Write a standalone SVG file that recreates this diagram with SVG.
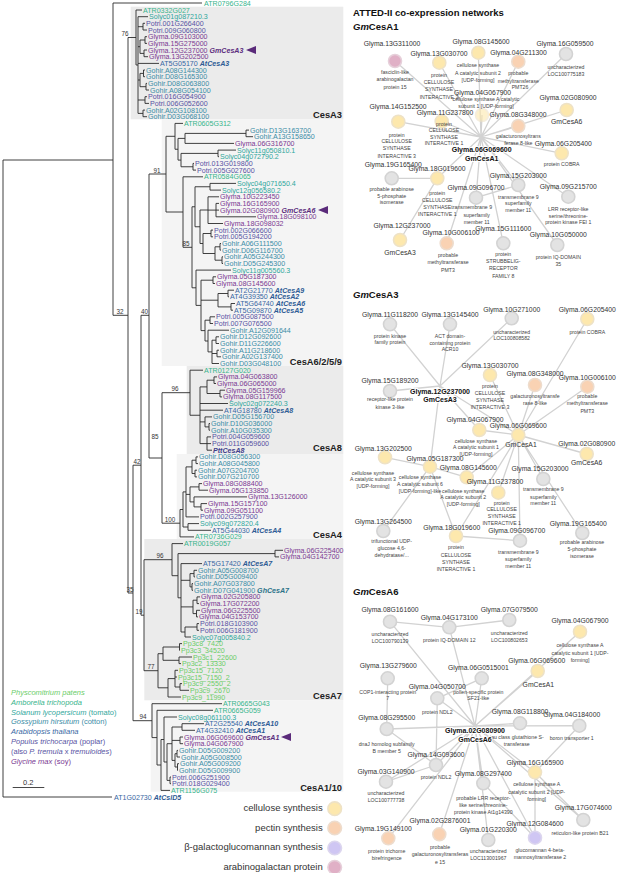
<svg xmlns="http://www.w3.org/2000/svg" width="617" height="873" viewBox="0 0 617 873">
<style>
text{font-family:"Liberation Sans",Arial,sans-serif}
.lf{font-size:7.1px}
.am{fill:#38b48c}.pp{fill:#6bcd68}.sl{fill:#2fa79c}.gh{fill:#3a8ca6}.at{fill:#3867a3}.pt{fill:#5753a3}.gm{fill:#7a3992}
.bi{font-weight:bold;font-style:italic}
.bgm{fill:#5b2c7d}.bat{fill:#2e5b94}.bpt{fill:#3f3d8a}.bgh{fill:#2a7288}
.tree{fill:none;stroke:#2b2b2b;stroke-width:0.9}
.bs{font-size:6.3px;fill:#333;text-anchor:middle}
.cl{font-size:9.3px;font-weight:bold;fill:#222;text-anchor:end}
.edge{stroke:#d2d2d2;stroke-width:1.3;fill:none}
circle{stroke-width:1.6}
.cel{fill:#fde8ad;stroke:#eee2c6}
.pec{fill:#f9d2b3;stroke:#eddccd}
.gal{fill:#cfc6f3;stroke:#dcd6ee}
.ara{fill:#e0b0c6;stroke:#e6d0da}
.unk{fill:#e3e3e3;stroke:#d3d3d3}
.nl{font-size:6.8px;fill:#333;text-anchor:middle}
.nd{font-size:5.2px;fill:#444;text-anchor:middle}
.hb{font-size:7px;font-weight:bold;fill:#111;text-anchor:middle;stroke:#fff;stroke-width:2;paint-order:stroke}
.nt{font-size:9.5px;font-weight:bold;fill:#111}
.sp{font-size:7.5px}
.lg{font-size:9.5px;fill:#333;text-anchor:end}
</style>
<defs>
<polygon id="arw" points="0,0 10,-4 10,4" fill="#5a2a7a"/>
</defs>

<!-- clade boxes -->
<g id="clade-boxes">
<rect x="130.7" y="6.7" width="212.6" height="112.6" fill="#ebebeb"/>
<rect x="161.7" y="119.3" width="181.6" height="246.7" fill="#f4f4f4"/>
<rect x="186.7" y="366" width="156.6" height="88" fill="#ebebeb"/>
<rect x="176.7" y="454" width="166.6" height="85" fill="#f4f4f4"/>
<rect x="144.3" y="539" width="199" height="161.3" fill="#ebebeb"/>
<rect x="150.7" y="700.3" width="192.6" height="91.4" fill="#f4f4f4"/>
<text class="cl" x="342" y="117.5">CesA3</text>
<text class="cl" x="342" y="364.5">CesA6/2/5/9</text>
<text class="cl" x="342" y="451.3">CesA8</text>
<text class="cl" x="342" y="537.5">CesA4</text>
<text class="cl" x="342" y="698.5">CesA7</text>
<text class="cl" x="342" y="790.5">CesA1/10</text>
</g>

<g id="tree-branches">
<path class="tree" d="M3 160V797M3 160H113M3 797H112M113 3V315.3M113 3H202M113 315.3H128M128 37.5V593M128 37.5H136M128 593H133M133 465.2V720.7M133 465.2H141M133 720.7H152M141 315.3V615.2M141 315.3H149M141 615.2H144M149 174V458M149 174H166M149 458H162
M136 10V65M136 10H142M136 65H138M138 16.7V113.4M138 16.7H148M138 26.7H143M138 46.7H140M138 63.4H159M138 80H140M138 100H145M138 113.4H143M143 23.3V30M143 23.3H145M143 30H147M140 40V53.4M140 40H145M140 53.4H144M145 36.7V43.4M145 36.7H147M145 43.4H147M144 50V56.7M144 50H147M144 56.7H148M140 73.4V86.7M140 73.4H143.5M140 86.7H146M143.5 70V76.7M143.5 70H145M143.5 76.7H145M146 83.4V90M146 83.4H147M146 90H149M145 96.7V103.4M145 96.7H147M145 103.4H149M143 110.1V116.7M143 110.1H145M143 116.7H147
M166 136.3V212M166 136.3H175M166 212H183M175 123.4V149.25M175 123.4H183M175 149.25H178M178 138.4V160.1M178 138.4H185M178 160.1H181M185 133.4V143.4M185 133.4H246M185 143.4H234M246 130.1V136.7M246 130.1H249M246 136.7H253M181 153.4V166.75M181 153.4H218M181 166.75H193M218 150.1V156.7M218 150.1H236M218 156.7H219M193 163.4V170.1M193 163.4H194M193 170.1H196
M183 176.8V247.3M183 176.8H203M183 247.3H192M192 206.75V287.8M192 206.75H195M192 287.8H196M195 186.75V226.75M195 186.75H210M195 226.75H200M210 183.4V190.1M210 183.4H236M210 190.1H221M200 210V243.5M200 210H208M200 243.5H203M208 196.8V223.5M208 196.8H219M208 210.1H216M208 223.5H223M216 203.4V216.8M216 203.4H219M216 210.1H219M216 216.8H256M203 233.5V253.5M203 233.5H211M203 253.5H215M211 230.1V236.8M211 230.1H213M211 236.8H213M215 246.8V260.2M215 246.8H220M215 260.2H222M220 243.5V250.1M220 243.5H221M220 250.1H221M222 256.8V263.5M222 256.8H223M222 263.5H223
M196 270.1V305.4M196 270.1H231M196 305.4H201M201 280.2V330.6M201 280.2H213M201 300.2H218M201 330.6H205M213 276.8V283.5M213 276.8H216M213 283.5H215M218 293.5V306.9M218 293.5H228M218 306.9H231M228 290.2V296.8M228 290.2H234M228 296.8H229M231 303.5V310.2M231 303.5H235M231 310.2H233M205 320.2V341M205 320.2H210M205 341H208M210 316.8V323.5M210 316.8H215M210 323.5H213M208 330.2V351.9M208 330.2H229M208 351.9H212M212 340.2V363.5M212 340.2H216M212 353.5H217M212 363.5H219M216 336.8V343.5M216 336.8H219M216 343.5H219M217 350.2V356.8M217 350.2H219M217 356.8H221
M162 392.7V523.2M162 392.7H190M162 523.2H180M190 370.2V415.25M190 370.2H203M190 415.25H200M200 386.9V443.6M200 386.9H207M200 403.5H228M200 410.2H223M200 421.9H205M200 443.6H207M207 380.2V393.5M207 380.2H214M207 393.5H220M214 376.9V383.5M214 376.9H217M214 383.5H216M220 390.2V396.9M220 390.2H225M220 396.9H222M205 416.9V426.9M205 416.9H212M205 426.9H209M209 423.5V430.2M209 423.5H210M209 430.2H210M207 436.9V450.2M207 436.9H211M207 443.6H211M207 450.2H212
M180 509.5V536.9M180 509.5H183M180 536.9H194M183 491.9V527M183 491.9H186M183 527H188M188 523.6V530.3M188 523.6H199M188 530.3H211M186 466.9V516.9M186 466.9H192M186 494.4H190M186 516.9H199M192 460.2V473.5M192 460.2H196M192 473.5H195M196 456.9V463.6M196 456.9H198M196 463.6H198M195 470.2V476.9M195 470.2H197M195 476.9H197M190 486.9V501.9M190 486.9H199M190 501.9H194M199 483.6V490.2M199 483.6H202M199 490.2H208M194 496.9V506.9M194 496.9H247M194 506.9H201M201 503.6V510.2M201 503.6H207M201 510.2H203
M144 559.7V670.7M144 559.7H172M144 670.7H158M172 543.6V575.7M172 543.6H183M172 575.7H178M178 553.6V597.8M178 553.6H275M178 597.8H181M275 550.3V556.9M275 550.3H283M275 556.9H279M181 563.6V632M181 563.6H202M181 580.3H190M181 606.9H193M181 632H185M190 573.6V586.9M190 573.6H194M190 586.9H192M194 570.3V576.9M194 570.3H197M194 576.9H195M192 583.6V590.3M192 583.6H193M192 590.3H193M193 600.2V613.6M193 600.2H197M193 613.6H196.5M197 596.9V603.6M197 596.9H200M197 603.6H199M196.5 610.3V616.9M196.5 610.3H200M196.5 616.9H198M185 627V637M185 627H197M185 637H191M197 623.6V630.3M197 623.6H199M197 630.3H199
M158 653.7V687.8M158 653.7H163M158 687.8H168M163 647V660.3M163 647H179.5M163 660.3H179M179.5 643.6V650.3M179.5 643.6H182M179.5 650.3H180M179 657V663.6M179 657H192M179 663.6H181M168 678.6V697M168 678.6H175M168 697H181M175 670.3V687M175 670.3H178M175 677H177M175 687H180M180 683.6V690.3M180 683.6H182M180 690.3H189
M152 703.7V737.6M152 703.7H222M152 737.6H157M157 710.3V765M157 710.3H213M157 765H161M161 739.5V790.4M161 739.5H164M161 790.4H170M164 717V762M164 717H177M164 762H167M167 743.7V780.4M167 743.7H172M167 780.4H170M170 777V783.7M170 777H171M170 783.7H171M172 727V760.4M172 727H182M172 740.4H180M172 760.4H175M182 723.7V730.3M182 723.7H204M182 730.3H195M180 737V743.7M180 737H183M180 743.7H183M175 753.7V767M175 753.7H177M175 767H177.5M177 750.4V757M177 750.4H178M177 757H180M177.5 763.7V770.4M177.5 763.7H179M177.5 770.4H178"/>
</g>

<g id="bootstrap">
<text class="bs" x="125" y="36">76</text>
<text class="bs" x="120" y="314">32</text>
<text class="bs" x="144.5" y="313.8">40</text>
<text class="bs" x="157" y="172.5">91</text>
<text class="bs" x="186" y="245.8">85</text>
<text class="bs" x="155" y="438.5">85</text>
<text class="bs" x="175" y="391.2">96</text>
<text class="bs" x="137" y="463.7">42</text>
<text class="bs" x="170" y="521.7">100</text>
<text class="bs" x="160" y="558.2">96</text>
<text class="bs" x="130" y="591.5">35</text>
<text class="bs" x="139" y="613.7">19</text>
<text class="bs" x="151" y="669">77</text>
<text class="bs" x="143" y="719.2">94</text>
</g>

<g id="leaves" class="lf">
<text x="204" y="5.5" class="am">ATR0796G284</text>
<text x="143" y="12.5" class="am">ATR0332G027</text>
<text x="149" y="19.2" class="sl">Solyc01g087210.3</text>
<text x="146" y="25.8" class="pt">Potri.001G266400</text>
<text x="148" y="32.5" class="pt">Potri.009G060800</text>
<text x="148" y="39.2" class="gm">Glyma.09G103000</text>
<text x="148" y="45.9" class="gm">Glyma.15G275000</text>
<text x="148" y="52.5" class="gm">Glyma.12G237000 <tspan class="bi bgm">GmCesA3</tspan></text>
<text x="149" y="59.2" class="gm">Glyma.13G202500</text>
<text x="160" y="65.9" class="at">AT5G05170 <tspan class="bi bat">AtCesA3</tspan></text>
<text x="146" y="72.5" class="gh">Gohir.A08G144300</text>
<text x="146" y="79.2" class="gh">Gohir.D08G165300</text>
<text x="148" y="85.9" class="gh">Gohir.D08G063800</text>
<text x="150" y="92.5" class="gh">Gohir.A08G054100</text>
<text x="148" y="99.2" class="pt">Potri.016G054900</text>
<text x="150" y="105.9" class="pt">Potri.006G052600</text>
<text x="146" y="112.6" class="gh">Gohir.A02G108100</text>
<text x="148" y="119.2" class="gh">Gohir.D03G068100</text>
<text x="184" y="125.9" class="am">ATR0605G312</text>
<text x="250" y="132.6" class="gh">Gohir.D13G163700</text>
<text x="254" y="139.2" class="gh">Gohir.A13G158650</text>
<text x="235" y="145.9" class="gm">Glyma.06G316700</text>
<text x="237" y="152.6" class="sl">Solyc11g050810.1</text>
<text x="220" y="159.2" class="sl">Solyc04g072790.2</text>
<text x="195" y="165.9" class="pt">Potri.013G019800</text>
<text x="197" y="172.6" class="pt">Potri.005G027600</text>
<text x="204" y="179.3" class="am">ATR0584G065</text>
<text x="237" y="185.9" class="sl">Solyc04g071650.4</text>
<text x="222" y="192.6" class="sl">Solyc12g056580.2</text>
<text x="220" y="199.3" class="gm">Glyma.10G223450</text>
<text x="220" y="205.9" class="gm">Glyma.16G165900</text>
<text x="220" y="212.6" class="gm">Glyma.02G080900 <tspan class="bi bgm">GmCesA6</tspan></text>
<text x="257" y="219.3" class="gm">Glyma.18G098100</text>
<text x="224" y="226" class="gm">Glyma.18G098032</text>
<text x="214" y="232.6" class="pt">Potri.002G066600</text>
<text x="214" y="239.3" class="pt">Potri.005G194200</text>
<text x="222" y="246" class="gh">Gohir.A06G111500</text>
<text x="222" y="252.6" class="gh">Gohir.D06G116700</text>
<text x="224" y="259.3" class="gh">Gohir.A05G244300</text>
<text x="224" y="266" class="gh">Gohir.D05G245300</text>
<text x="232" y="272.6" class="sl">Solyc11g005560.3</text>
<text x="217" y="279.3" class="gm">Glyma.05G187300</text>
<text x="216" y="286" class="gm">Glyma.08G145600</text>
<text x="235" y="292.7" class="at">AT2G21770 <tspan class="bi bat">AtCesA9</tspan></text>
<text x="230" y="299.3" class="at">AT4G39350 <tspan class="bi bat">AtCesA2</tspan></text>
<text x="236" y="306" class="at">AT5G64740 <tspan class="bi bat">AtCesA6</tspan></text>
<text x="234" y="312.7" class="at">AT5G09870 <tspan class="bi bat">AtCesA5</tspan></text>
<text x="216" y="319.3" class="pt">Potri.005G087500</text>
<text x="214" y="326" class="pt">Potri.007G076500</text>
<text x="230" y="332.7" class="gh">Gohir.A12G091644</text>
<text x="220" y="339.3" class="gh">Gohir.D12G092600</text>
<text x="220" y="346" class="gh">Gohir.D11G226600</text>
<text x="220" y="352.7" class="gh">Gohir.A11G218600</text>
<text x="222" y="359.3" class="gh">Gohir.A02G137400</text>
<text x="220" y="366" class="gh">Gohir.D03G048100</text>
<text x="204" y="372.7" class="am">ATR0127G020</text>
<text x="218" y="379.4" class="gm">Glyma.04G063800</text>
<text x="217" y="386" class="gm">Glyma.06G065000</text>
<text x="226" y="392.7" class="gm">Glyma.05G159966</text>
<text x="223" y="399.4" class="gm">Glyma.08G117500</text>
<text x="229" y="406" class="sl">Solyc02g072240.3</text>
<text x="224" y="412.7" class="at">AT4G18780 <tspan class="bi bat">AtCesA8</tspan></text>
<text x="213" y="419.4" class="gh">Gohir.D05G156700</text>
<text x="211" y="426" class="gh">Gohir.D10G036000</text>
<text x="211" y="432.7" class="gh">Gohir.A10G035300</text>
<text x="212" y="439.4" class="pt">Potri.004G059600</text>
<text x="212" y="446.1" class="pt">Potri.011G059600</text>
<text x="213" y="452.7" class="bi bpt">PttCesA8</text>
<text x="199" y="459.4" class="gh">Gohir.D08G056300</text>
<text x="199" y="466.1" class="gh">Gohir.A08G045800</text>
<text x="198" y="472.7" class="gh">Gohir.A07G204700</text>
<text x="198" y="479.4" class="gh">Gohir.D07G210700</text>
<text x="203" y="486.1" class="gm">Glyma.08G088400</text>
<text x="209" y="492.7" class="gm">Glyma.05G133850</text>
<text x="248" y="499.4" class="gm">Glyma.13G126000</text>
<text x="208" y="506.1" class="gm">Glyma.15G157100</text>
<text x="204" y="512.7" class="gm">Glyma.09G051100</text>
<text x="200" y="519.4" class="pt">Potri.002G257900</text>
<text x="200" y="526.1" class="sl">Solyc09g072820.4</text>
<text x="212" y="532.8" class="at">AT5G44030 <tspan class="bi bat">AtCesA4</tspan></text>
<text x="195" y="539.4" class="am">ATR0736G029</text>
<text x="184" y="546.1" class="am">ATR0019G057</text>
<text x="284" y="552.8" class="gm">Glyma.06G225400</text>
<text x="280" y="559.4" class="gm">Glyma.04G142700</text>
<text x="203" y="566.1" class="at">AT5G17420 <tspan class="bi bat">AtCesA7</tspan></text>
<text x="198" y="572.8" class="gh">Gohir.A05G008700</text>
<text x="196" y="579.4" class="gh">Gohir.D05G009400</text>
<text x="194" y="586.1" class="gh">Gohir.A07G037800</text>
<text x="194" y="592.8" class="gh">Gohir.D07G041900 <tspan class="bi bgh">GhCesA7</tspan></text>
<text x="201" y="599.4" class="gm">Glyma.02G205800</text>
<text x="200" y="606.1" class="gm">Glyma.17G072200</text>
<text x="201" y="612.8" class="gm">Glyma.06G225500</text>
<text x="199" y="619.4" class="gm">Glyma.04G153700</text>
<text x="200" y="626.1" class="pt">Potri.018G103900</text>
<text x="200" y="632.8" class="pt">Potri.006G181900</text>
<text x="192" y="639.5" class="sl">Solyc07g005840.2</text>
<text x="183" y="646.1" class="pp">Pp3c8_7420</text>
<text x="181" y="652.8" class="pp">Pp3c3_34520</text>
<text x="193" y="659.5" class="pp">Pp3c1_22600</text>
<text x="182" y="666.1" class="pp">Pp3c2_13330</text>
<text x="179" y="672.8" class="pp">Pp3c15_7120</text>
<text x="178" y="679.5" class="pp">Pp3c15_7150_2</text>
<text x="183" y="686.1" class="pp">Pp3c9_2550_2</text>
<text x="190" y="692.8" class="pp">Pp3c9_2670</text>
<text x="182" y="699.5" class="pp">Pp3c9_11990</text>
<text x="223" y="706.2" class="am">ATR0665G043</text>
<text x="214" y="712.8" class="am">ATR0665G059</text>
<text x="178" y="719.5" class="sl">Solyc08g061100.3</text>
<text x="205" y="726.2" class="at">AT2G25540 <tspan class="bi bat">AtCesA10</tspan></text>
<text x="196" y="732.8" class="at">AT4G32410 <tspan class="bi bat">AtCesA1</tspan></text>
<text x="184" y="739.5" class="gm">Glyma.06G069600 <tspan class="bi bgm">GmCesA1</tspan></text>
<text x="184" y="746.2" class="gm">Glyma.04G067900</text>
<text x="179" y="752.9" class="gh">Gohir.D05G009200</text>
<text x="181" y="759.5" class="gh">Gohir.A05G008500</text>
<text x="180" y="766.2" class="gh">Gohir.A05G009200</text>
<text x="179" y="772.9" class="gh">Gohir.D05G009900</text>
<text x="172" y="779.5" class="pt">Potri.006G251900</text>
<text x="172" y="786.2" class="pt">Potri.018G029400</text>
<text x="171" y="792.9" class="am">ATR1156G075</text>
<text x="114" y="799.5" class="at">AT1G02730 <tspan class="bi bat">AtCslD5</tspan></text>
</g>

<g id="arrows">
<use href="#arw" x="246" y="50"/>
<use href="#arw" x="318" y="210.1"/>
<use href="#arw" x="281" y="737"/>
</g>

<g id="species-legend" class="sp">
<text x="11" y="695" class="pp" font-style="italic">Physcomitrium patens</text>
<text x="11" y="705" class="am" font-style="italic">Amborella trichopoda</text>
<text x="11" y="715" class="sl"><tspan font-style="italic">Solanum lycopersicum</tspan> (tomato)</text>
<text x="11" y="724.4" class="gh"><tspan font-style="italic">Gossypium hirsutum</tspan> (cotton)</text>
<text x="11" y="734.4" class="at" font-style="italic">Arabidopsis thaliana</text>
<text x="11" y="744" class="pt"><tspan font-style="italic">Populus trichocarpa</tspan> (poplar)</text>
<text x="11" y="754" class="pt">(also <tspan font-style="italic">P. tremula</tspan> x <tspan font-style="italic">tremuloides</tspan>)</text>
<text x="11" y="763.7" class="gm"><tspan font-style="italic">Glycine max</tspan> (soy)</text>
</g>

<g id="scale-bar">
<text x="28.3" y="784.5" class="sp" fill="#333" text-anchor="middle">0.2</text>
<path d="M12.7 787.5H44.3" stroke="#333" stroke-width="0.9"/>
</g>

<g id="function-legend">
<text class="lg" x="322.7" y="811.3">cellulose synthesis</text>
<circle class="cel" cx="334.7" cy="808.7" r="6.8"/>
<text class="lg" x="322.7" y="830.6">pectin synthesis</text>
<circle class="pec" cx="334.7" cy="828" r="6.8"/>
<text class="lg" x="322.7" y="850.3">β-galactoglucomannan synthesis</text>
<circle class="gal" cx="334.7" cy="848" r="6.8"/>
<text class="lg" x="322.7" y="870">arabinogalactan protein</text>
<circle class="ara" cx="334.7" cy="867.3" r="6.8"/>
</g>

<g id="network-titles">
<text class="nt" x="353" y="16" font-size="9.1">ATTED-II co-expression networks</text>
<text class="nt" x="353" y="30"><tspan font-style="italic">Gm</tspan>CesA1</text>
<text class="nt" x="353" y="297.7"><tspan font-style="italic">Gm</tspan>CesA3</text>
<text class="nt" x="353" y="595"><tspan font-style="italic">Gm</tspan>CesA6</text>
</g>

<g id="connectors">
<path class="edge" d="M481 137L395 61M481 137L439.3 62.7M481 137L478.3 52.7M481 137L518.3 61.7M481 137L566 54M481 137L482 115M481 137L566.7 110M481 137L398.3 121.7M481 137L441.7 121.5M481 137L518.3 126M481 137L561.7 153.3M481 137L437.3 178.3M481 137L476 197.7M481 137L518.3 185M481 137L568.3 196.7M481 137L446.7 243.3M481 137L503.3 243.3M481 137L557.3 245M391.7 178.3L437.3 178.3M400 240L437.3 178.3M476 197.7L518.3 185"/>
<path class="edge" d="M440 386L390 324.3M440 386L450 324.3M440 386L511.7 318.3M440 386L390 391M440 386L518.3 435M440 386L430 466.7M440 386L479.3 430M518.3 435L587.3 319M518.3 435L490 375M518.3 435L535 385M518.3 435L587.3 386.7M518.3 435L479.3 430M518.3 435L586.7 454M518.3 435L543.3 479M518.3 435L582.3 533M518.3 435L520 540.7M518.3 435L498.3 492.7M518.3 435L456 536M518.3 435L466.7 477.3M430 466.7L385 457.3M430 466.7L466.7 477.3M430 466.7L383.3 531M430 466.7L456 536M456 536L520 540.7"/>
<path class="edge" d="M475 726L390 621.7M390 621.7L449.3 627.3M449.3 627.3L509.3 620M475 726L449.3 627.3M475 726L580 631.7M387.7 678.3L386.7 729M475 726L481.7 678.3M481.7 678.3L437.3 698.3M475 726L537.7 671M475 726L437.3 698.3M437.3 698.3L436 765M475 726L386.7 729M386.7 729L436 765M436 765L386 781.7M475 726L520 723.3M475 726L579.3 725.7M579.3 725.7L535 772.3M475 726L535 772.3M535 772.3L535 837.7M535 772.3L583.3 820M475 726L483.3 783.3M483.3 783.3L535 837.7M475 726L436 765M475 726L386 781.7M475 726L388.3 838.3M475 726L439.3 834.3M475 726L488.3 840M475 726L535 837.7M475 726L583.3 820"/>
</g>

<!-- GmCesA1 network -->
<g id="a1-13G311000"><circle class="ara" cx="395" cy="61" r="6.5"/><text class="nl" x="392" y="46.4">Glyma.13G311000</text><text class="nd" x="395" y="73.6">fasciclin-like</text><text class="nd" x="395" y="81.2">arabinogalactan</text><text class="nd" x="395" y="89.2">protein 15</text></g>
<g id="a1-13G030700"><circle class="cel" cx="439.3" cy="62.7" r="6.5"/><text class="nl" x="439" y="55.7">Glyma.13G030700</text><text class="nd" x="439" y="76.9">protein</text><text class="nd" x="439" y="84.2">CELLULOSE</text><text class="nd" x="439" y="91.2">SYNTHASE</text><text class="nd" x="439" y="98.6">INTERACTIVE 3</text></g>
<g id="a1-08G145600"><circle class="cel" cx="478.3" cy="52.7" r="6.5"/><text class="nl" x="481" y="44.4">Glyma.08G145600</text><text class="nd" x="478" y="67.2">cellulose synthase</text><text class="nd" x="478" y="74.6">A catalytic subunit 2</text><text class="nd" x="478" y="81.9">[UDP-forming]</text></g>
<g id="a1-04G211300"><circle class="pec" cx="518.3" cy="61.7" r="6.5"/><text class="nl" x="518.5" y="55.1">Glyma.04G211300</text><text class="nd" x="518.3" y="75.2">probable</text><text class="nd" x="518.3" y="82.6">methyltransferase</text><text class="nd" x="520" y="89.4">PMT26</text></g>
<g id="a1-16G059500"><circle class="unk" cx="566" cy="54" r="6.5"/><text class="nl" x="565" y="46.1">Glyma.16G059500</text><text class="nd" x="566" y="69.2">uncharacterized</text><text class="nd" x="566" y="76.2">LOC100775183</text></g>
<g id="a1-04G067900"><circle class="cel" cx="482" cy="115" r="6.5" opacity="0.6"/><text class="nl" x="482.5" y="95.3">Glyma.04G067900</text><text class="nd" x="486" y="101.2">cellulose synthase A catalytic</text><text class="nd" x="486" y="107.6">subunit 1 [UDP-forming]</text></g>
<g id="a1-02G080900"><circle class="cel" cx="566.7" cy="110" r="6.5"/><text class="nl" x="568" y="100.1">Glyma.02G080900</text><text class="nl" x="566.7" y="124.1">GmCesA6</text></g>
<g id="a1-14G152500"><circle class="cel" cx="398.3" cy="121.7" r="6.5"/><text class="nl" x="398" y="109.1">Glyma.14G152500</text><text class="nd" x="396.7" y="136.9">protein</text><text class="nd" x="396.7" y="143.2">CELLULOSE</text><text class="nd" x="396.7" y="150.2">SYNTHASE</text><text class="nd" x="396.7" y="157.6">INTERACTIVE 3</text></g>
<g id="a1-11G237800"><circle class="cel" cx="441.7" cy="121.5" r="6.5"/><text class="nl" x="445" y="114.7">Glyma.11G237800</text><text class="nd" x="444" y="125.9">protein</text><text class="nd" x="444" y="132.4">CELLULOSE</text><text class="nd" x="444" y="138.9">SYNTHASE</text><text class="nd" x="444" y="145.4">INTERACTIVE 1</text></g>
<g id="a1-08G348000"><circle class="pec" cx="518.3" cy="126" r="6.5"/><text class="nl" x="518" y="117.4">Glyma.08G348000</text><text class="nd" x="518.3" y="137.9">galacturonosyltrans</text><text class="nd" x="518.3" y="145.2">ferase 8-like</text></g>
<g id="a1-06G205400"><circle class="cel" cx="561.7" cy="153.3" r="6.5"/><text class="nl" x="563.3" y="145.7">Glyma.06G205400</text><text class="nd" x="561.7" y="166.2">protein COBRA</text></g>
<g id="a1-19G165400"><circle class="unk" cx="391.7" cy="178.3" r="6.5"/><text class="nl" x="393.3" y="166.7">Glyma.19G165400</text><text class="nd" x="391.7" y="191.2">probable arabinose</text><text class="nd" x="391.7" y="197.6">5-phosphate</text><text class="nd" x="391.7" y="203.6">isomerase</text></g>
<g id="a1-18G019600"><circle class="cel" cx="437.3" cy="178.3" r="6.5"/><text class="nl" x="437" y="171.4">Glyma.18G019600</text><text class="nd" x="437.3" y="195.2">protein</text><text class="nd" x="437.3" y="201.9">CELLULOSE</text><text class="nd" x="437.3" y="208.6">SYNTHASE</text><text class="nd" x="437.3" y="215.9">INTERACTIVE 1</text></g>
<g id="a1-09G096700"><circle class="unk" cx="476" cy="197.7" r="6.5"/><text class="nl" x="476" y="189.7">Glyma.09G096700</text><text class="nd" x="471.7" y="208.6">transmembrane 9</text><text class="nd" x="476.7" y="216.9">superfamily</text><text class="nd" x="476.7" y="224.2">member 11</text></g>
<g id="a1-15G203000"><circle class="unk" cx="518.3" cy="185" r="6.5"/><text class="nl" x="518.3" y="178.4">Glyma.15G203000</text><text class="nd" x="518.3" y="198.6">transmembrane 9</text><text class="nd" x="518.3" y="205.2">superfamily</text><text class="nd" x="518.3" y="211.9">member 11</text></g>
<g id="a1-09G215700"><circle class="unk" cx="568.3" cy="196.7" r="6.5"/><text class="nl" x="568.3" y="189.4">Glyma.09G215700</text><text class="nd" x="568.3" y="210.9">LRR receptor-like</text><text class="nd" x="568.3" y="217.6">serine/threonine-</text><text class="nd" x="568.3" y="224.2">protein kinase FEI 1</text></g>
<g id="a1-12G237000"><circle class="cel" cx="400" cy="240" r="6.5"/><text class="nl" x="402" y="228.1">Glyma.12G237000</text><text class="nl" x="400" y="254.7">GmCesA3</text></g>
<g id="a1-10G006100"><circle class="pec" cx="446.7" cy="243.3" r="6.5"/><text class="nl" x="451" y="235.4">Glyma.10G006100</text><text class="nd" x="448" y="256.9">probable</text><text class="nd" x="448" y="264.2">methyltransferase</text><text class="nd" x="448" y="271.6">PMT3</text></g>
<g id="a1-15G111600"><circle class="unk" cx="503.3" cy="243.3" r="6.5"/><text class="nl" x="503.3" y="230.7">Glyma.15G111600</text><text class="nd" x="503.3" y="255.9">protein</text><text class="nd" x="503.3" y="262.9">STRUBBELIG-</text><text class="nd" x="503.3" y="270.2">RECEPTOR</text><text class="nd" x="503.3" y="277.6">FAMILY 8</text></g>
<g id="a1-10G050000"><circle class="unk" cx="557.3" cy="245" r="6.5"/><text class="nl" x="558.3" y="236.7">Glyma.10G050000</text><text class="nd" x="558.3" y="259.2">protein IQ-DOMAIN</text><text class="nd" x="558.3" y="266.2">35</text></g>
<g id="a1-hub"><text class="hb" x="481.7" y="152.4">Glyma.06G069600</text><text class="hb" x="481.7" y="161.4">GmCesA1</text></g>

<!-- GmCesA3 network -->
<g id="a3-11G118200"><circle class="unk" cx="390" cy="324.3" r="6.5"/><text class="nl" x="390" y="316.7">Glyma.11G118200</text><text class="nd" x="390" y="337.6">protein kinase</text><text class="nd" x="390" y="344.2">family protein</text></g>
<g id="a3-13G145400"><circle class="unk" cx="450" cy="324.3" r="6.5"/><text class="nl" x="450" y="316.7">Glyma.13G145400</text><text class="nd" x="450" y="337.6">ACT domain-</text><text class="nd" x="450" y="344.6">containing protein</text><text class="nd" x="450" y="351.2">ACR10</text></g>
<g id="a3-10G271000"><circle class="unk" cx="511.7" cy="318.3" r="6.5"/><text class="nl" x="511.7" y="312.4">Glyma.10G271000</text><text class="nd" x="511.7" y="333.6">uncharacterized</text><text class="nd" x="511.7" y="340.2">LOC100808582</text></g>
<g id="a3-06G205400"><circle class="cel" cx="587.3" cy="319" r="6.5"/><text class="nl" x="587.3" y="312.4">Glyma.06G205400</text><text class="nd" x="587.3" y="333.6">protein COBRA</text></g>
<g id="a3-13G030700"><circle class="cel" cx="490" cy="375" r="6.5"/><text class="nl" x="490" y="368.1">Glyma.13G030700</text><text class="nd" x="490" y="388.4">protein</text><text class="nd" x="490" y="395.1">CELLULOSE</text><text class="nd" x="490" y="401.9">SYNTHASE</text><text class="nd" x="490" y="408.9">INTERACTIVE 3</text></g>
<g id="a3-08G348000"><circle class="pec" cx="535" cy="385" r="6.5"/><text class="nl" x="535" y="375.7">Glyma.08G348000</text><text class="nd" x="535" y="397.6">galacturonosyltransfe</text><text class="nd" x="535" y="405">rase 8-like</text></g>
<g id="a3-10G006100"><circle class="pec" cx="587.3" cy="386.7" r="6.5"/><text class="nl" x="587.3" y="380.4">Glyma.10G006100</text><text class="nd" x="587.3" y="397.9">probable</text><text class="nd" x="587.3" y="405.2">methyltransferase</text><text class="nd" x="587.3" y="412.7">PMT3</text></g>
<g id="a3-15G189200"><circle class="unk" cx="390" cy="391" r="6.5"/><text class="nl" x="390" y="383.4">Glyma.15G189200</text><text class="nd" x="390" y="401.4">receptor-like protein</text><text class="nd" x="390" y="408.9">kinase 3-like</text></g>
<g id="a3-04G067900"><circle class="cel" cx="479.3" cy="430" r="6.5"/><text class="nl" x="475" y="422.4">Glyma.04G067900</text><text class="nd" x="476" y="442.6">cellulose synthase</text><text class="nd" x="476" y="449.2">A catalytic subunit 1</text><text class="nd" x="476" y="455.9">[UDP-forming]</text></g>
<g id="a3-06G069600"><circle class="cel" cx="518.3" cy="435" r="6.5"/><text class="nl" x="518.3" y="428.4">Glyma.06G069600</text><text class="nl" x="521" y="447.4">GmCesA1</text></g>
<g id="a3-13G202500"><circle class="cel" cx="385" cy="457.3" r="6.5"/><text class="nl" x="383.3" y="450.7">Glyma.13G202500</text><text class="nd" x="373" y="475.2">cellulose synthase</text><text class="nd" x="373" y="481.2">A catalytic subunit 3</text><text class="nd" x="373" y="487.9">[UDP-forming]</text></g>
<g id="a3-05G187300"><circle class="cel" cx="430" cy="466.7" r="6.5"/><text class="nl" x="435" y="460.7">Glyma.05G187300</text><text class="nd" x="420" y="479.2">cellulose synthase</text><text class="nd" x="420" y="485.9">A catalytic subunit 6</text><text class="nd" x="420" y="492.6">[UDP-forming]-like</text></g>
<g id="a3-08G145600"><circle class="cel" cx="466.7" cy="477.3" r="6.5"/><text class="nl" x="468.3" y="470.1">Glyma.08G145600</text><text class="nd" x="463.3" y="492.6">cellulose synthase</text><text class="nd" x="463.3" y="499.2">A catalytic subunit 2</text><text class="nd" x="463.3" y="505.9">[UDP-forming]</text></g>
<g id="a3-11G237800"><circle class="cel" cx="498.3" cy="492.7" r="6.5"/><text class="nl" x="495" y="484.1">Glyma.11G237800</text><text class="nd" x="501.7" y="504.6">protein</text><text class="nd" x="501.7" y="511.2">CELLULOSE</text><text class="nd" x="501.7" y="517.9">SYNTHASE</text><text class="nd" x="501.7" y="524.6">INTERACTIVE 1</text></g>
<g id="a3-02G080900"><circle class="cel" cx="586.7" cy="454" r="6.5"/><text class="nl" x="586.7" y="446.4">Glyma.02G080900</text><text class="nl" x="586.7" y="465.1">GmCesA6</text></g>
<g id="a3-15G203000"><circle class="unk" cx="543.3" cy="479" r="6.5"/><text class="nl" x="540" y="470.7">Glyma.15G203000</text><text class="nd" x="543.3" y="491.2">transmembrane 9</text><text class="nd" x="543.3" y="498.6">superfamily</text><text class="nd" x="543.3" y="505.2">member 11</text></g>
<g id="a3-13G264500"><circle class="unk" cx="383.3" cy="531" r="6.5"/><text class="nl" x="383.3" y="524.1">Glyma.13G264500</text><text class="nd" x="391.7" y="542.6">trifunctional UDP-</text><text class="nd" x="391.7" y="550.2">glucose 4,6-</text><text class="nd" x="391.7" y="556.9">dehydratase/...</text></g>
<g id="a3-18G019600"><circle class="cel" cx="456" cy="536" r="6.5"/><text class="nl" x="451.7" y="529.7">Glyma.18G019600</text><text class="nd" x="456" y="549.2">protein</text><text class="nd" x="456" y="556.6">CELLULOSE</text><text class="nd" x="456" y="563.9">SYNTHASE</text><text class="nd" x="456" y="570.9">INTERACTIVE 1</text></g>
<g id="a3-09G096700"><circle class="unk" cx="520" cy="540.7" r="6.5"/><text class="nl" x="516.7" y="532.9">Glyma.09G096700</text><text class="nd" x="518.3" y="553.6">transmembrane 9</text><text class="nd" x="518.3" y="560.6">superfamily</text><text class="nd" x="518.3" y="567.9">member 11</text></g>
<g id="a3-19G165400"><circle class="unk" cx="582.3" cy="533" r="6.5"/><text class="nl" x="578.3" y="526.4">Glyma.19G165400</text><text class="nd" x="582" y="543.6">probable arabinose</text><text class="nd" x="582" y="550.9">5-phosphate</text><text class="nd" x="582" y="557.6">isomerase</text></g>
<g id="a3-hub"><text class="hb" x="440" y="394.1">Glyma.12G237000</text><text class="hb" x="440" y="401.7">GmCesA3</text></g>

<!-- GmCesA6 network -->
<g id="a6-08G161600"><circle class="unk" cx="390" cy="621.7" r="6.5"/><text class="nl" x="390" y="612.4">Glyma.08G161600</text><text class="nd" x="390" y="635.9">uncharacterized</text><text class="nd" x="390" y="642.6">LOC100790139</text></g>
<g id="a6-04G173100"><circle class="unk" cx="449.3" cy="627.3" r="6.5"/><text class="nl" x="449.3" y="619.7">Glyma.04G173100</text><text class="nd" x="449.3" y="641.9">protein IQ-DOMAIN 12</text></g>
<g id="a6-07G079500"><circle class="unk" cx="509.3" cy="620" r="6.5"/><text class="nl" x="509.3" y="612.4">Glyma.07G079500</text><text class="nd" x="509.3" y="635.2">uncharacterized</text><text class="nd" x="509.3" y="641.9">LOC100802653</text></g>
<g id="a6-04G067900"><circle class="cel" cx="580" cy="631.7" r="6.5"/><text class="nl" x="580" y="623.1">Glyma.04G067900</text><text class="nd" x="580" y="646.9">cellulose synthase A</text><text class="nd" x="580" y="654.6">catalytic subunit 1 [UDP-</text><text class="nd" x="580" y="661.9">forming]</text></g>
<g id="a6-13G279600"><circle class="unk" cx="387.7" cy="678.3" r="6.5"/><text class="nl" x="388.3" y="668.4">Glyma.13G279600</text><text class="nd" x="387.7" y="693.6">COP1-interacting protein</text><text class="nd" x="387.7" y="700.2">7</text></g>
<g id="a6-06G0515001"><circle class="unk" cx="481.7" cy="678.3" r="6.5"/><text class="nl" x="478.3" y="670.1">Glyma.06G0515001</text><text class="nd" x="478.3" y="693.6">pollen-specific protein</text><text class="nd" x="478.3" y="700.2">SF21-like</text></g>
<g id="a6-06G069600"><circle class="cel" cx="537.7" cy="671" r="6.5"/><text class="nl" x="536.7" y="663.4">Glyma.06G069600</text><text class="nl" x="538.3" y="687.4">GmCesA1</text></g>
<g id="a6-04G050700"><circle class="unk" cx="437.3" cy="698.3" r="6.5"/><text class="nl" x="437.3" y="689.1">Glyma.04G050700</text><text class="nd" x="437.3" y="713.6">protein NDL2</text></g>
<g id="a6-08G295500"><circle class="unk" cx="386.7" cy="729" r="6.5"/><text class="nl" x="386.7" y="719.9">Glyma.08G295500</text><text class="nd" x="386.7" y="745.9">dnaJ homolog subfamily</text><text class="nd" x="386.7" y="752.9">B member 5</text></g>
<g id="a6-08G118800"><circle class="unk" cx="520" cy="723.3" r="6.5"/><text class="nl" x="520" y="714.1">Glyma.08G118800</text><text class="nd" x="516.7" y="738.6">tau class glutathione S-</text><text class="nd" x="516.7" y="745.9">transferase</text></g>
<g id="a6-04G184000"><circle class="unk" cx="579.3" cy="725.7" r="6.5"/><text class="nl" x="571.7" y="717.4">Glyma.04G184000</text><text class="nd" x="571.7" y="739.6">boron transporter 1</text></g>
<g id="a6-14G093600"><circle class="unk" cx="436" cy="765" r="6.5"/><text class="nl" x="436" y="757.4">Glyma.14G093600</text><text class="nd" x="436" y="778.6">protein NDL2</text></g>
<g id="a6-03G140900"><circle class="unk" cx="386" cy="781.7" r="6.5"/><text class="nl" x="386" y="774.1">Glyma.03G140900</text><text class="nd" x="386" y="795.2">uncharacterized</text><text class="nd" x="386" y="801.9">LOC100777738</text></g>
<g id="a6-08G297400"><circle class="unk" cx="483.3" cy="783.3" r="6.5"/><text class="nl" x="483.3" y="775.7">Glyma.08G297400</text><text class="nd" x="483.3" y="800.2">probable LRR receptor-</text><text class="nd" x="483.3" y="806.9">like serine/threonine-</text><text class="nd" x="483.3" y="813.6">protein kinase At1g14390</text></g>
<g id="a6-16G165900"><circle class="cel" cx="535" cy="772.3" r="6.5"/><text class="nl" x="535" y="765.1">Glyma.16G165900</text><text class="nd" x="536.7" y="786.2">cellulose synthase A</text><text class="nd" x="536.7" y="793.6">catalytic subunit 2 [UDP-</text><text class="nd" x="536.7" y="801.2">forming]</text></g>
<g id="a6-17G074600"><circle class="unk" cx="583.3" cy="820" r="6.5"/><text class="nl" x="583.3" y="810.1">Glyma.17G074600</text><text class="nd" x="580" y="834.6">reticulon-like protein B21</text></g>
<g id="a6-12G084600"><circle class="gal" cx="535" cy="837.7" r="6.5"/><text class="nl" x="535" y="825.7">Glyma.12G084600</text><text class="nd" x="540" y="851.9">glucomannan 4-beta-</text><text class="nd" x="540" y="858.6">mannosyltransferase 2</text></g>
<g id="a6-19G149100"><circle class="pec" cx="388.3" cy="838.3" r="6.5"/><text class="nl" x="383.3" y="830.7">Glyma.19G149100</text><text class="nd" x="386.7" y="852.9">protein trichome</text><text class="nd" x="386.7" y="859.6">birefringence</text></g>
<g id="a6-02G2876001"><circle class="pec" cx="439.3" cy="834.3" r="6.5"/><text class="nl" x="440" y="823.4">Glyma.02G2876001</text><text class="nd" x="440" y="848.6">probable</text><text class="nd" x="440" y="855.9">galacturonosyltransferas</text><text class="nd" x="440" y="863.6">e 15</text></g>
<g id="a6-01G220300"><circle class="unk" cx="488.3" cy="840" r="6.5"/><text class="nl" x="488.3" y="831.7">Glyma.01G220300</text><text class="nd" x="488.3" y="852.9">uncharacterized</text><text class="nd" x="488.3" y="859.6">LOC113001967</text></g>
<g id="a6-hub"><text class="hb" x="475" y="733.4">Glyma.02G080900</text><text class="hb" x="475" y="742.4">GmCesA6</text></g>
</svg>
